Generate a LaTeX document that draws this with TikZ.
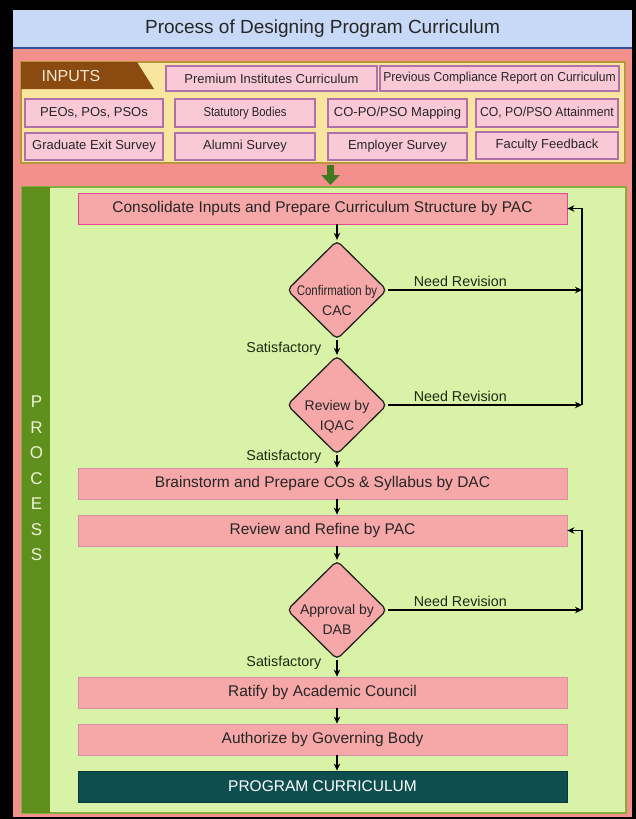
\documentclass[tikz,border=0pt]{standalone}
\usepackage{fontspec}
\setmainfont{Liberation Sans}
\usetikzlibrary{shapes.geometric,arrows.meta}
\definecolor{titlefill}{HTML}{C7D9F6}
\definecolor{titleline}{HTML}{2F4FA0}
\definecolor{redpanel}{HTML}{F3908C}
\definecolor{yellowpanel}{HTML}{F8E6A0}
\definecolor{yellowborder}{HTML}{B8963C}
\definecolor{tabbrown}{HTML}{8B4A10}
\definecolor{tabtext}{HTML}{F6E8D0}
\definecolor{inpink}{HTML}{F9C9D8}
\definecolor{inborder}{HTML}{B070A8}
\definecolor{greenpanel}{HTML}{D8F3A8}
\definecolor{greenborder}{HTML}{86AE3C}
\definecolor{stripgreen}{HTML}{5F8F1D}
\definecolor{striptext}{HTML}{EEF5D6}
\definecolor{procpink}{HTML}{F6A8A8}
\definecolor{procborder}{HTML}{D88FA8}
\definecolor{finalteal}{HTML}{0F4E4F}
\definecolor{arrowgreen}{HTML}{3E7B1F}
\definecolor{txt}{HTML}{262626}
\definecolor{labtxt}{HTML}{1C2A12}
\begin{document}
\begin{tikzpicture}[x=1pt,y=-1pt,
  panel/.style={inner sep=0, outer sep=0},
  ibox/.style={draw=inborder, line width=1.2, fill=inpink, inner sep=0, text=txt, font=\fontsize{13}{15}\selectfont},
  pbox/.style={draw=procborder, line width=0.8, fill=procpink, minimum width=489, minimum height=31, inner sep=0, text=txt, font=\fontsize{15.5}{18}\selectfont},
  dia/.style={diamond, draw=black!85, line width=1.3, fill=procpink, minimum width=100, minimum height=99, inner sep=0, rounded corners=5},
  dtext/.style={align=center, inner sep=0, text=txt, font=\fontsize{14}{20}\selectfont},
  conn/.style={draw=black, line width=1.6, -{Stealth[length=7,width=6.5]}},
  lab/.style={inner sep=0, text=labtxt, font=\fontsize{14.3}{16}\selectfont}]
\useasboundingbox (0,0) rectangle (636,819);
\fill[black] (0,0) rectangle (636,819);
% panels
\node[panel, fill=redpanel, minimum width=619, minimum height=769] (main) at (322.5,432.5) {};
\node[panel, fill=titlefill, minimum width=619, minimum height=38, text=txt, font=\fontsize{19}{22}\selectfont] (title) at (322.5,29) {Process of Designing Program Curriculum};
\draw[titleline, line width=1.5] (title.south west) -- (title.south east);
\node[panel, draw=yellowborder, line width=1.5, fill=yellowpanel, minimum width=604, minimum height=101] (inputs) at (323,112.5) {};
\fill[tabbrown] (21,62) -- (137,62) -- (154,89) -- (21,89) -- cycle;
\node[inner sep=0, text=tabtext, font=\fontsize{16}{18}\selectfont] (inputslabel) at (71,76) {INPUTS};
% input boxes
\node[ibox, minimum width=211, minimum height=25] (prem) at (271.5,78.5) {Premium Institutes Curriculum};
\node[ibox, minimum width=239, minimum height=25] (prev) at (499.5,78.5) {\scalebox{0.93}[1]{Previous Compliance Report on Curriculum}};
\node[ibox, minimum width=138, minimum height=28] (peo) at (94,113) {PEOs, POs, PSOs};
\node[ibox, minimum width=140, minimum height=28] (stat) at (245,113) {\scalebox{0.87}[1]{Statutory Bodies}};
\node[ibox, minimum width=139, minimum height=28] (map) at (397.5,113) {CO-PO/PSO Mapping};
\node[ibox, minimum width=142, minimum height=28] (att) at (547,113) {\scalebox{0.94}[1]{CO, PO/PSO Attainment}};
\node[ibox, minimum width=138, minimum height=27] (grad) at (94,146.5) {Graduate Exit Survey};
\node[ibox, minimum width=140, minimum height=27] (alum) at (245,146.5) {Alumni Survey};
\node[ibox, minimum width=139, minimum height=27] (emp) at (397.5,146.5) {Employer Survey};
\node[ibox, minimum width=142, minimum height=27] (fac) at (547,145.5) {Faculty Feedback};
% process panel
\node[panel, draw=greenborder, line width=1.2, fill=greenpanel, minimum width=604, minimum height=626] (process) at (324,500) {};
\node[panel, fill=stripgreen, minimum width=28, minimum height=626] (strip) at (36,500) {};
\node[align=center, inner sep=0, text=striptext, font=\fontsize{17}{25.5}\selectfont] (proctext) at (36.5,478.5) {P\\R\\O\\C\\E\\S\\S};
% green arrow
\coordinate (ax) at (330.5,0);
\draw[arrowgreen, line width=7, -{Triangle[length=10,width=18]}, shorten <=2, shorten >=2] (inputs.south -| ax) -- (process.north -| ax);
% process steps
\node[pbox, draw=magenta!60!procborder] (cons) at (322.5,208.5) {Consolidate Inputs and Prepare Curriculum Structure by PAC};
\node[dia] (d1) at (337,290) {};
\node[dtext] (d1t) at (337,300.5) {\scalebox{0.82}[1]{Confirmation by}\\CAC};
\node[dia] (d2) at (337,405) {};
\node[dtext] (d2t) at (337,416.5) {Review by\\IQAC};
\node[pbox] (brain) at (322.5,483.5) {Brainstorm and Prepare COs \& Syllabus by DAC};
\node[pbox] (rev) at (322.5,530.5) {Review and Refine by PAC};
\node[dia] (d3) at (337,610) {};
\node[dtext] (d3t) at (337,619.5) {Approval by\\DAB};
\node[pbox] (rat) at (322.5,692.5) {Ratify by Academic Council};
\node[pbox] (auth) at (322.5,739.5) {Authorize by Governing Body};
\node[pbox, draw=finalteal!70!black, fill=finalteal, text=white] (final) at (322.5,786.5) {PROGRAM CURRICULUM};
% loop coordinates
\coordinate (c1) at (582,405);
\coordinate (c2) at (582,610);
% connectors
\draw[conn] (d1.north |- cons.south) -- (d1.north);
\draw[conn] (d1.south) -- node[lab, pos=0.56, anchor=east, xshift=-15] (s1) {Satisfactory} (d2.north);
\draw[conn] (d2.south) -- node[lab, pos=0.12, anchor=east, xshift=-15] (s2) {Satisfactory} (d2.south |- brain.north);
\draw[conn] (d2.south |- brain.south) -- (d2.south |- rev.north);
\draw[conn] (d3.north |- rev.south) -- (d3.north);
\draw[conn] (d3.south) -- node[lab, pos=0.18, anchor=east, xshift=-15] (s3) {Satisfactory} (d3.south |- rat.north);
\draw[conn] (d3.south |- rat.south) -- (d3.south |- auth.north);
\draw[conn] (d3.south |- auth.south) -- (d3.south |- final.north);
\draw[conn] (d1.east) -- node[lab, pos=0.374, above=3] (n1) {Need Revision} (d1.east -| c1);
\draw[conn] (d2.east) -- node[lab, pos=0.374, above=3] (n2) {Need Revision} (c1);
\draw[conn] (c1) |- (cons.east);
\draw[conn] (d3.east) -- node[lab, pos=0.374, above=3] (n3) {Need Revision} (c2);
\draw[conn] (c2) |- (rev.east);
\end{tikzpicture}
\end{document}
